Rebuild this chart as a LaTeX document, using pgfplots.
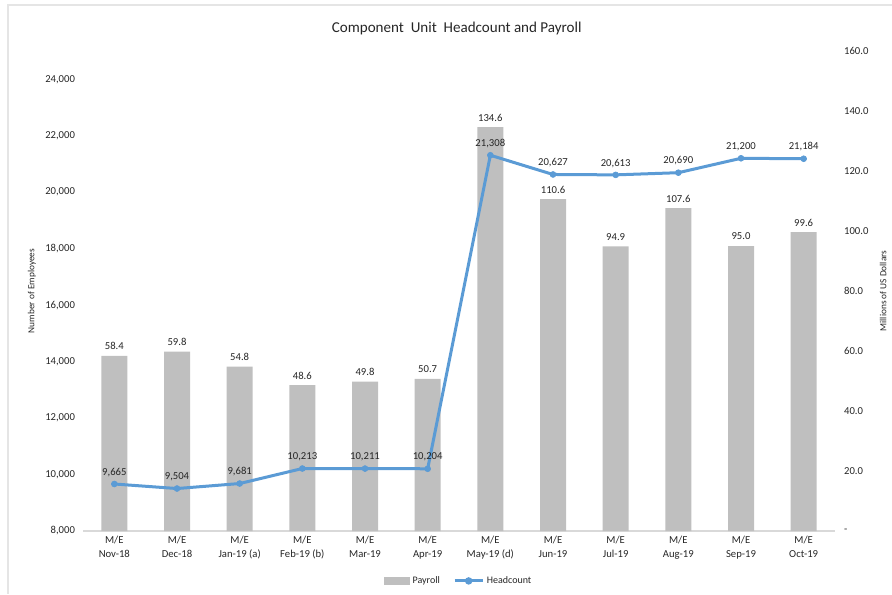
\documentclass[border=0pt]{standalone}
\usepackage{fontspec}
\setmainfont{Carlito}
\usepackage{pgfplots}
\pgfplotsset{compat=1.18}
\pgfplotsset{/pgf/number format/assume math mode=true}
\definecolor{barc}{HTML}{BFBFBF}
\definecolor{linec}{HTML}{5B9BD5}
\definecolor{axc}{HTML}{D9D9D9}
\definecolor{txt}{HTML}{262626}
\begin{document}
\begin{tikzpicture}
\path[use as bounding box] (-62.25pt,-47.25pt) rectangle (606.75pt,398.25pt);
\draw[color=black!10, line width=0.9pt] (-56.25pt,-47.25pt) -- (-56.25pt,394.5pt) -- (606.75pt,394.5pt);
% Bars on the right axis
\begin{axis}[
  width=564pt, height=360pt, scale only axis,
  xmin=-0.5, xmax=11.5, ymin=0, ymax=160,
  axis x line*=bottom, axis y line*=right,
  x axis line style={draw=axc, line width=0.9pt, -},
  y axis line style={draw=none},
  major tick length=0pt,
  scaled y ticks=false,
  xtick={0,...,11},
  xticklabels={{M/E\\Nov-18},{M/E\\Dec-18},{M/E\\Jan-19 (a)},{M/E\\Feb-19 (b)},{M/E\\Mar-19},{M/E\\Apr-19},{M/E\\May-19 (d)},{M/E\\Jun-19},{M/E\\Jul-19},{M/E\\Aug-19},{M/E\\Sep-19},{M/E\\Oct-19}},
  xticklabel style={align=center, font=\fontsize{8}{11}\selectfont, text=txt},
  ytick={0,20,...,160},
  yticklabels={-,20.0,40.0,60.0,80.0,100.0,120.0,140.0,160.0},
  yticklabel style={font=\fontsize{8}{9.6}\selectfont, text=txt, anchor=west, xshift=3.3pt},
  ylabel={Millions of US Dollars},
  ylabel style={at={(axis description cs:1.064,0.5)}, anchor=center, rotate=0, font=\fontsize{7}{8}\selectfont, text=txt},
]
\addplot[ybar, bar width=19.5pt, fill=barc, draw=none,
  nodes near coords={\pgfmathprintnumber[fixed,fixed zerofill,precision=1]{\pgfplotspointmeta}},
  every node near coord/.append style={font=\fontsize{8}{9.6}\selectfont, text=txt, anchor=south, yshift=1pt}]
coordinates {(0,58.4) (1,59.8) (2,54.8) (3,48.6) (4,49.8) (5,50.7) (6,134.6) (7,110.6) (8,94.9) (9,107.6) (10,95.0) (11,99.6)};
\end{axis}
% Headcount on the left axis
\begin{axis}[
  width=564pt, height=360pt, scale only axis,
  xmin=-0.5, xmax=11.5, ymin=8000, ymax=25000,
  axis x line=none, axis y line*=left,
  y axis line style={draw=none},
  major tick length=0pt,
  scaled y ticks=false,
  ytick={8000,10000,...,24000},
  yticklabels={{8,000},{10,000},{12,000},{14,000},{16,000},{18,000},{20,000},{22,000},{24,000}},
  yticklabel style={font=\fontsize{8}{9.6}\selectfont, text=txt, anchor=east, xshift=-2.5pt},
  ylabel={Number of Employees},
  ylabel style={at={(axis description cs:-0.068,0.5)}, anchor=center, font=\fontsize{7}{8}\selectfont, text=txt},
  title={Component\ \ Unit\ \ Headcount and Payroll},
  title style={at={(axis description cs:0.497,1.031)}, anchor=center, font=\fontsize{11.3}{13}\selectfont, text=txt},
  legend style={at={(axis description cs:0.5,-0.104)}, anchor=center, draw=none, fill=none,
    font=\fontsize{7.5}{9}\selectfont, text=txt, legend columns=-1,
    /tikz/every even column/.append style={column sep=8pt}},
  legend cell align=left,
]
\addlegendimage{legend image code/.code={\fill[barc] (0pt,-2.8pt) rectangle (19pt,2.8pt);}}
\addlegendentry{Payroll}
\addplot[linec, line width=2.25pt, mark=*, mark size=2.2pt, mark options={fill=linec, draw=linec, line width=0.5pt},
  legend image code/.code={\draw[linec, line width=2.25pt] (0pt,0pt) -- (21pt,0pt); \fill[linec] (10.5pt,0pt) circle (1.6pt);},
  nodes near coords={\pgfmathprintnumber[1000 sep={,}]{\pgfplotspointmeta}},
  every node near coord/.append style={font=\fontsize{8}{9.6}\selectfont, text=txt, anchor=south, yshift=2pt}]
coordinates {(0,9665) (1,9504) (2,9681) (3,10213) (4,10211) (5,10204) (6,21308) (7,20627) (8,20613) (9,20690) (10,21200) (11,21184)};
\addlegendentry{Headcount}
\end{axis}
\end{tikzpicture}
\end{document}
